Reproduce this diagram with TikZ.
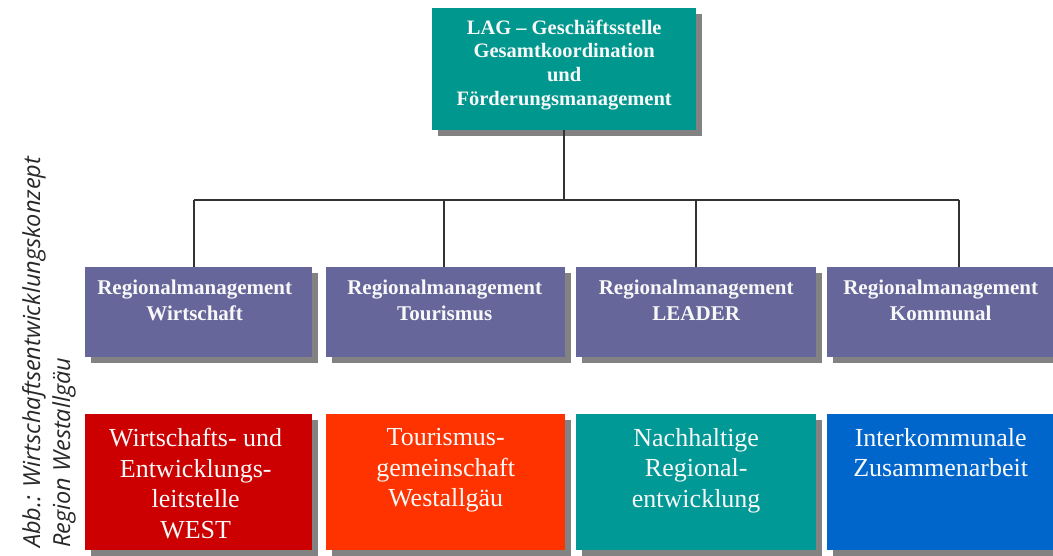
\documentclass[tikz,border=0pt]{standalone}
\usepackage{fontspec}
\setmainfont{Liberation Serif}
\newfontfamily\capfont{Open Sans}
\usetikzlibrary{shadows}

\definecolor{lagteal}{RGB}{0,152,142}
\definecolor{rmpurple}{RGB}{102,102,155}
\definecolor{westred}{RGB}{204,0,0}
\definecolor{tourred}{RGB}{255,51,0}
\definecolor{nachteal}{RGB}{0,153,150}
\definecolor{kommblue}{RGB}{0,102,204}
\definecolor{shadowgray}{RGB}{130,130,130}
\definecolor{linegray}{RGB}{50,50,50}
\definecolor{textwhite}{RGB}{248,248,248}
\definecolor{capgray}{RGB}{40,40,40}

\tikzset{
  box/.style={rectangle, draw=none, inner sep=0pt, anchor=north west,
    drop shadow={shadow xshift=6pt, shadow yshift=-6pt, fill=shadowgray, opacity=1}},
  headbox/.style={box, fill=lagteal, minimum width=264pt, minimum height=122pt},
  rmbox/.style={box, fill=rmpurple, minimum height=90pt},
  unitbox/.style={box, minimum height=136pt},
  headtext/.style={anchor=north, inner sep=0pt, align=center, text=textwhite,
    font=\bfseries\fontsize{20.5pt}{23.7pt}\selectfont},
  rmtext/.style={anchor=north, inner sep=0pt, align=center, text=textwhite,
    font=\bfseries\fontsize{21pt}{25.5pt}\selectfont},
  unittext/.style={anchor=north, inner sep=0pt, align=center, text=textwhite,
    font=\fontsize{26pt}{30.7pt}\selectfont},
  link/.style={draw=linegray, line width=1.3pt}
}

\begin{document}
\begin{tikzpicture}[x=1pt,y=1pt]
  \useasboundingbox (0,0) rectangle (1053,-555);

  % head office
  \node[headbox] (lag) at (432,-8) {};
  \node[headtext] (lagt) at ([yshift=-11.5pt]lag.north)
    {LAG – Geschäftsstelle\\Gesamtkoordination\\und\\Förderungsmanagement};

  % regional management row
  \node[rmbox, minimum width=227pt] (rm1) at (85,-267) {};
  \node[rmbox, minimum width=239pt] (rm2) at (326,-267) {};
  \node[rmbox, minimum width=240pt] (rm3) at (576,-267) {};
  \node[rmbox, minimum width=227pt] (rm4) at (827,-267) {};
  \node[rmtext] (rm1t) at ([xshift=-4pt,yshift=-13pt]rm1.north) {Regionalmanagement\\Wirtschaft};
  \node[rmtext] (rm2t) at ([xshift=-1pt,yshift=-13pt]rm2.north) {Regionalmanagement\\Tourismus};
  \node[rmtext] (rm3t) at ([yshift=-13pt]rm3.north) {Regionalmanagement\\LEADER};
  \node[rmtext] (rm4t) at ([yshift=-13pt]rm4.north) {Regionalmanagement\\Kommunal};

  % operating units row
  \node[unitbox, fill=westred, minimum width=227pt] (u1) at (85,-414) {};
  \node[unitbox, fill=tourred, minimum width=239pt] (u2) at (326,-414) {};
  \node[unitbox, fill=nachteal, minimum width=240pt] (u3) at (576,-414) {};
  \node[unitbox, fill=kommblue, minimum width=227pt] (u4) at (827,-414) {};
  \node[unittext] (u1t) at ([xshift=-3pt,yshift=-14pt]u1.north) {Wirtschafts- und\\Entwicklungs-\\leitstelle\\WEST};
  \node[unittext] (u2t) at ([yshift=-14pt]u2.north) {Tourismus-\\gemeinschaft\\Westallgäu};
  \node[unittext] (u3t) at ([yshift=-14pt]u3.north) {Nachhaltige\\Regional-\\entwicklung};
  \node[unittext] (u4t) at ([yshift=-14pt]u4.north) {Interkommunale\\Zusammenarbeit};

  % connector bus
  \coordinate (d1) at (194,-200);
  \coordinate (d2) at (444,-200);
  \coordinate (d3) at (696,-200);
  \coordinate (d4) at (959,-200);
  \draw[link] (lag.south -| 564,0) -- (564,-200);
  \draw[link] (d1) -- (d4);
  \draw[link] (d1) -- (d1 |- rm1.north);
  \draw[link] (d2) -- (d2 |- rm2.north);
  \draw[link] (d3) -- (d3 |- rm3.north);
  \draw[link] (d4) -- (d4 |- rm4.north);

  % caption, set vertically
  \node[rotate=90, anchor=north west, inner sep=0pt, align=left, text=capgray,
    font=\capfont\itshape\fontsize{23.5pt}{30pt}\selectfont] (cap) at (22,-548)
    {Abb.: Wirtschaftsentwicklungskonzept\\Region Westallgäu};
\end{tikzpicture}
\end{document}
